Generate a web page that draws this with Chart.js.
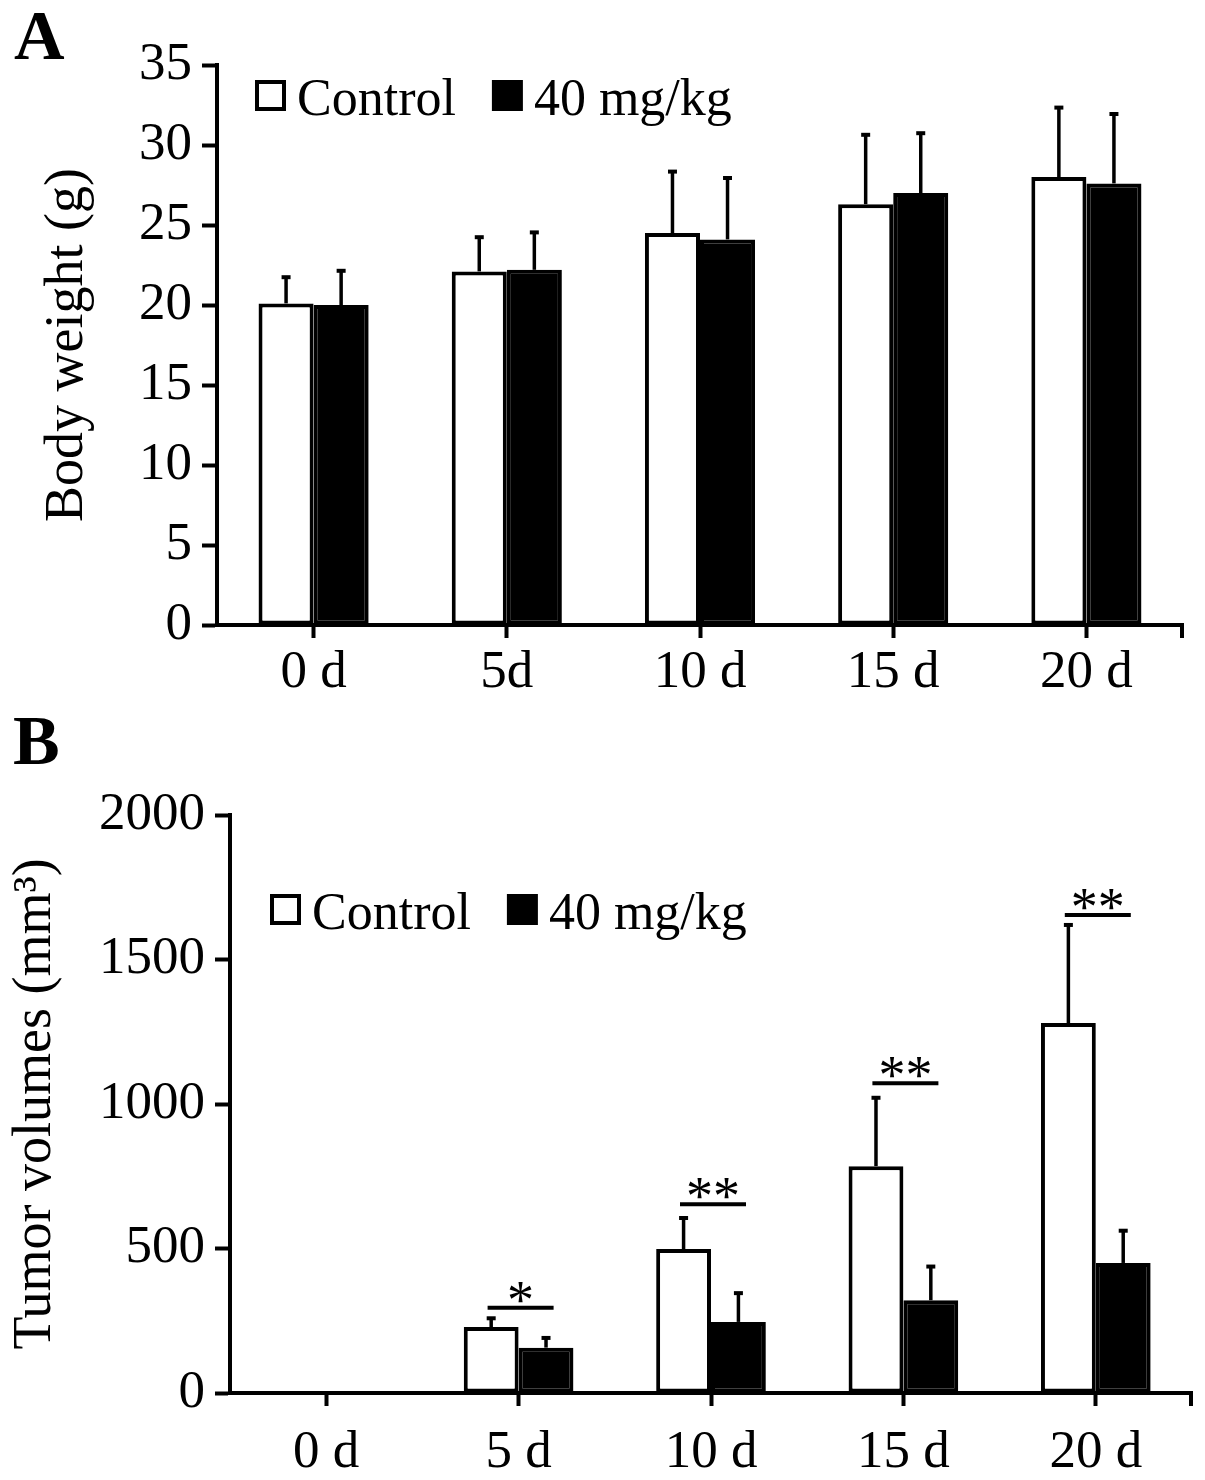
<!DOCTYPE html>
<html>
<head>
<meta charset="utf-8">
<script src="https://cdn.jsdelivr.net/npm/chart.js@4.4.1/dist/chart.umd.min.js"></script>
<style>
  body { margin: 0; background: #fff; }
  #wrap { position: relative; width: 1205px; height: 1480px; }
  canvas { position: absolute; left: 0; }
  #chart-a { top: 0; }
  #chart-b { top: 700px; }
  .panel { position: absolute; font: bold 70px 'Liberation Serif', serif; line-height: 70px; color: #000; }
</style>
</head>
<body>
<div id="wrap">
  <div class="panel" style="left:14px; top:1px;">A</div>
  <div class="panel" style="left:13px; top:706px;">B</div>
  <canvas id="chart-a" width="1205" height="700"></canvas>
  <canvas id="chart-b" width="1205" height="780"></canvas>
</div>
<script>
// panel A - body weight
const weightDays = ['0 d', '5d', '10 d', '15 d', '20 d'];
const weightControl = [20.1, 22.1, 24.5, 26.3, 28.0];
const weightControlErr = [1.7, 2.2, 3.9, 4.4, 4.4];
const weightTreated = [20.0, 22.2, 24.1, 27.0, 27.6];
const weightTreatedErr = [2.2, 2.4, 3.9, 3.8, 4.4];

// panel B - tumor volume
const tumorDays = ['0 d', '5 d', '10 d', '15 d', '20 d'];
const tumorControl = [0, 228, 498, 785, 1280];
const tumorControlErr = [0, 34, 111, 240, 343];
const tumorTreated = [0, 157, 246, 321, 450];
const tumorTreatedErr = [0, 37, 103, 120, 115];
const tumorSig = ['', '*', '**', '**', '**'];
const tumorSigLevel = [null, 295, 653, 1072, 1654];

Chart.defaults.font.family = "'Liberation Serif', serif";
Chart.defaults.color = '#000';

const errorBars = {
  id: 'errorBars',
  afterDatasetsDraw(chart) {
    const ctx = chart.ctx;
    const y = chart.scales.y;
    chart.data.datasets.forEach((ds, di) => {
      chart.getDatasetMeta(di).data.forEach((bar, i) => {
        const err = ds.errors[i];
        if (!err) return;
        const top = y.getPixelForValue(ds.data[i] + err);
        ctx.save();
        ctx.strokeStyle = '#000';
        ctx.lineWidth = 3.5;
        ctx.beginPath();
        ctx.moveTo(bar.x, bar.y);
        ctx.lineTo(bar.x, top);
        ctx.stroke();
        ctx.lineWidth = 4;
        ctx.beginPath();
        ctx.moveTo(bar.x - 4.5, top + 1);
        ctx.lineTo(bar.x + 4.5, top + 1);
        ctx.stroke();
        ctx.restore();
      });
    });
  }
};

const boxLegend = {
  id: 'boxLegend',
  afterDraw(chart, args, opts) {
    const ctx = chart.ctx;
    let x = opts.x;
    ctx.save();
    ctx.font = "52px 'Liberation Serif'";
    ctx.textBaseline = 'alphabetic';
    chart.data.datasets.forEach(ds => {
      ctx.fillStyle = '#000';
      ctx.fillRect(x, opts.y, 31, 31);
      if (ds.backgroundColor !== '#000') {
        ctx.fillStyle = '#fff';
        ctx.fillRect(x + 4, opts.y + 4, 23, 23);
      }
      ctx.fillStyle = '#000';
      ctx.fillText(ds.label, x + 42, opts.y + 35);
      x += 42 + ctx.measureText(ds.label).width + 36;
    });
    ctx.restore();
  }
};

const significance = {
  id: 'significance',
  afterDraw(chart, args, opts) {
    if (!opts.marks) return;
    const ctx = chart.ctx;
    const xs = chart.scales.x, ys = chart.scales.y;
    ctx.save();
    ctx.strokeStyle = '#000';
    ctx.fillStyle = '#000';
    ctx.lineWidth = 4;
    ctx.font = "54px 'Liberation Serif'";
    ctx.textAlign = 'center';
    ctx.textBaseline = 'alphabetic';
    opts.marks.forEach((m, i) => {
      if (!m) return;
      const cx = xs.getPixelForValue(i) + 2;
      const ly = ys.getPixelForValue(opts.levels[i]);
      ctx.beginPath();
      ctx.moveTo(cx - 33, ly);
      ctx.lineTo(cx + 33, ly);
      ctx.stroke();
      ctx.fillText(m, cx, ly + 10);
    });
    ctx.restore();
  }
};

const axisEnd = {
  id: 'axisEnd',
  afterDraw(chart) {
    const ctx = chart.ctx;
    const a = chart.chartArea;
    ctx.save();
    ctx.strokeStyle = '#000';
    ctx.lineWidth = 4;
    ctx.beginPath();
    ctx.moveTo(a.right - 1, a.bottom);
    ctx.lineTo(a.right - 1, a.bottom + 13);
    ctx.stroke();
    ctx.restore();
  }
};

function makeChart(el, cfg) {
  return new Chart(el, {
    type: 'bar',
    data: {
      labels: cfg.labels,
      datasets: [{
        label: 'Control',
        data: cfg.control,
        errors: cfg.controlErr,
        backgroundColor: '#fff',
        borderColor: '#000',
        borderWidth: 4,
        borderSkipped: false
      }, {
        label: '40 mg/kg',
        data: cfg.treated,
        errors: cfg.treatedErr,
        backgroundColor: '#000',
        borderColor: '#000',
        borderWidth: 4,
        borderSkipped: false
      }]
    },
    options: {
      responsive: false,
      animation: false,
      datasets: { bar: { categoryPercentage: 0.57, barPercentage: 1 } },
      layout: { padding: cfg.padding },
      plugins: {
        legend: { display: false },
        tooltip: { enabled: false },
        boxLegend: cfg.legend,
        significance: { marks: cfg.sig, levels: cfg.sigLevel }
      },
      scales: {
        x: {
          offset: true,
          afterFit: s => { s.height = cfg.xHeight; },
          grid: { offset: false, drawOnChartArea: false, tickLength: 13, tickWidth: 4, tickColor: '#000' },
          border: { color: '#000', width: 4 },
          ticks: { font: { size: 53 }, padding: cfg.xPad, maxRotation: 0 }
        },
        y: {
          min: 0,
          max: cfg.max,
          afterFit: s => { s.width = cfg.yWidth; },
          grid: { drawOnChartArea: false, tickLength: 15, tickWidth: 4, tickColor: '#000' },
          border: { color: '#000', width: 4 },
          ticks: { stepSize: cfg.step, font: { size: 53 }, padding: 10, callback: v => String(v) },
          title: { display: true, text: cfg.title, font: { size: 54 }, padding: { top: cfg.titlePad, bottom: 0 } }
        }
      }
    },
    plugins: [errorBars, boxLegend, significance, axisEnd]
  });
}

makeChart(document.getElementById('chart-a'), {
  labels: weightDays,
  control: weightControl, controlErr: weightControlErr,
  treated: weightTreated, treatedErr: weightTreatedErr,
  max: 35, step: 5,
  title: 'Body weight (g)', titlePad: 35,
  padding: { top: 65, right: 22, left: 0, bottom: 0 },
  xHeight: 75, yWidth: 217, xPad: 3,
  legend: { x: 255, y: 80 }
});

makeChart(document.getElementById('chart-b'), {
  labels: tumorDays,
  control: tumorControl, controlErr: tumorControlErr,
  treated: tumorTreated, treatedErr: tumorTreatedErr,
  max: 2000, step: 500,
  title: 'Tumor volumes (mm³)', titlePad: 3,
  padding: { top: 115, right: 13, left: 0, bottom: 0 },
  xHeight: 87, yWidth: 230, xPad: 15,
  legend: { x: 270, y: 194 },
  sig: tumorSig, sigLevel: tumorSigLevel
});
</script>
</body>
</html>
